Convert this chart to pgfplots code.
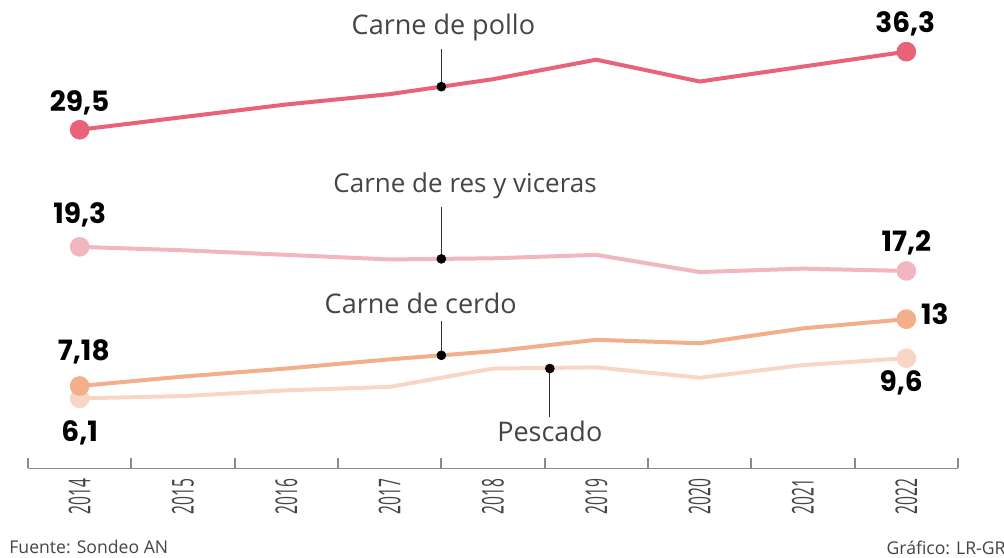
\documentclass[border=0pt]{standalone}
\usepackage{pgfplots}
\pgfplotsset{compat=1.18}
\usepackage{graphicx}
\usepackage{fontspec}
\setmainfont{Open Sans}
\newfontfamily\numfont{Poppins}
\newcommand\yr[1]{\scalebox{0.52}[1]{#1}}
\definecolor{pollo}{HTML}{E8627A}
\definecolor{res}{HTML}{F1B6BE}
\definecolor{cerdo}{HTML}{F3AE8A}
\definecolor{pescado}{HTML}{F9D6C4}
\definecolor{axgray}{HTML}{8A8A8A}
\definecolor{txtgray}{HTML}{444444}
\begin{document}
\begin{tikzpicture}
\useasboundingbox (-14pt,-44.5pt) rectangle (488pt,234.2pt);
\begin{axis}[
  at={(0,0)}, anchor=south west,
  scale only axis, width=465pt, height=234.2pt,
  xmin=-0.5, xmax=8.5, ymin=0, ymax=40.8,
  axis x line=bottom, axis y line=none,
  axis line style={axgray, line width=0.9pt, -},
  xtick={0,...,8},
  xticklabels={\yr{2014},\yr{2015},\yr{2016},\yr{2017},\yr{2018},\yr{2019},\yr{2020},\yr{2021},\yr{2022}},
  major tick length=0pt,
  minor xtick={-0.5,0.5,...,8.5},
  minor tick length=5pt,
  tick align=inside,
  minor tick style={axgray, line width=0.9pt},
  xticklabel style={rotate=90, anchor=east, font=\fontsize{15}{15}\selectfont, text=txtgray, inner sep=0pt},
  xticklabel shift=5pt,
  ytick=\empty,
  clip=false,
]
\addplot[pollo, line width=2pt, mark=none] coordinates {
 (0,29.5) (1,30.6) (2,31.7) (3,32.6) (4,33.9) (5,35.6) (6,33.7) (7,35.0) (8,36.3)};
\addplot[res, line width=2pt, mark=none] coordinates {
 (0,19.3) (1,19.0) (2,18.6) (3,18.2) (4,18.3) (5,18.6) (6,17.1) (7,17.4) (8,17.2)};
\addplot[pescado, line width=2pt, mark=none] coordinates {
 (0,6.1) (1,6.3) (2,6.8) (3,7.1) (4,8.7) (5,8.8) (6,7.9) (7,9.0) (8,9.6)};
\addplot[cerdo, line width=2pt, mark=none] coordinates {
 (0,7.18) (1,8.0) (2,8.7) (3,9.5) (4,10.2) (5,11.2) (6,10.9) (7,12.2) (8,13.0)};
% end markers
\addplot[only marks, mark=*, mark size=4.7pt, pollo, mark options={draw=none}] coordinates {(0,29.5) (8,36.3)};
\addplot[only marks, mark=*, mark size=4.7pt, res, mark options={draw=none}] coordinates {(0,19.3) (8,17.2)};
\addplot[only marks, mark=*, mark size=4.7pt, pescado, mark options={draw=none}] coordinates {(0,6.1) (8,9.6)};
\addplot[only marks, mark=*, mark size=4.7pt, cerdo, mark options={draw=none}] coordinates {(0,7.18) (8,13.0)};
% leader lines
\draw[black!80, line width=0.5pt] (axis cs:3.5,33.25) -- (axis cs:3.5,36.5);
\draw[black!80, line width=0.5pt] (axis cs:3.5,18.25) -- (axis cs:3.5,22.8);
\draw[black!80, line width=0.5pt] (axis cs:3.5,9.85) -- (axis cs:3.5,12.8);
\draw[black!80, line width=0.5pt] (axis cs:4.55,8.7) -- (axis cs:4.55,4.5);
\addplot[only marks, mark=*, mark size=2.2pt, black] coordinates {(3.5,33.25) (3.5,18.25) (3.5,9.85) (4.55,8.7)};
% series labels
\node[text=txtgray, font=\fontsize{13.5}{14}\selectfont] at (axis cs:3.52,38.4) {Carne de pollo};
\node[text=txtgray, font=\fontsize{13}{14}\selectfont] at (axis cs:3.73,24.6) {Carne de res y viceras};
\node[text=txtgray, font=\fontsize{13.5}{14}\selectfont] at (axis cs:3.30,14.4) {Carne de cerdo};
\node[text=txtgray, font=\fontsize{13.5}{14}\selectfont] at (axis cs:4.55,3.2) {Pescado};
% value labels
\node[font=\numfont\bfseries\fontsize{14}{14}\selectfont] at (axis cs:0,31.85) {29,5};
\node[font=\numfont\bfseries\fontsize{14}{14}\selectfont] at (axis cs:7.99,38.7) {36,3};
\node[font=\numfont\bfseries\fontsize{14}{14}\selectfont] at (axis cs:0,22.1) {19,3};
\node[font=\numfont\bfseries\fontsize{14}{14}\selectfont] at (axis cs:8,19.65) {17,2};
\node[font=\numfont\bfseries\fontsize{14}{14}\selectfont] at (axis cs:0.04,10.15) {7,18};
\node[font=\numfont\bfseries\fontsize{14}{14}\selectfont] at (axis cs:0,3.1) {6,1};
\node[font=\numfont\bfseries\fontsize{14}{14}\selectfont, anchor=west, inner sep=0pt] at (axis cs:8.14,13.4) {13};
\node[font=\numfont\bfseries\fontsize{14}{14}\selectfont] at (axis cs:7.95,7.45) {9,6};
\end{axis}
\node[anchor=west, text=txtgray, font=\fontsize{8.8}{9}\selectfont, inner sep=0pt] at (-9.5pt,-39.5pt) {Fuente: Sondeo AN};
\node[anchor=east, text=txtgray, font=\fontsize{8.8}{9}\selectfont, inner sep=0pt] at (489pt,-39.5pt) {Gráfico: LR-GR};
\end{tikzpicture}
\end{document}
